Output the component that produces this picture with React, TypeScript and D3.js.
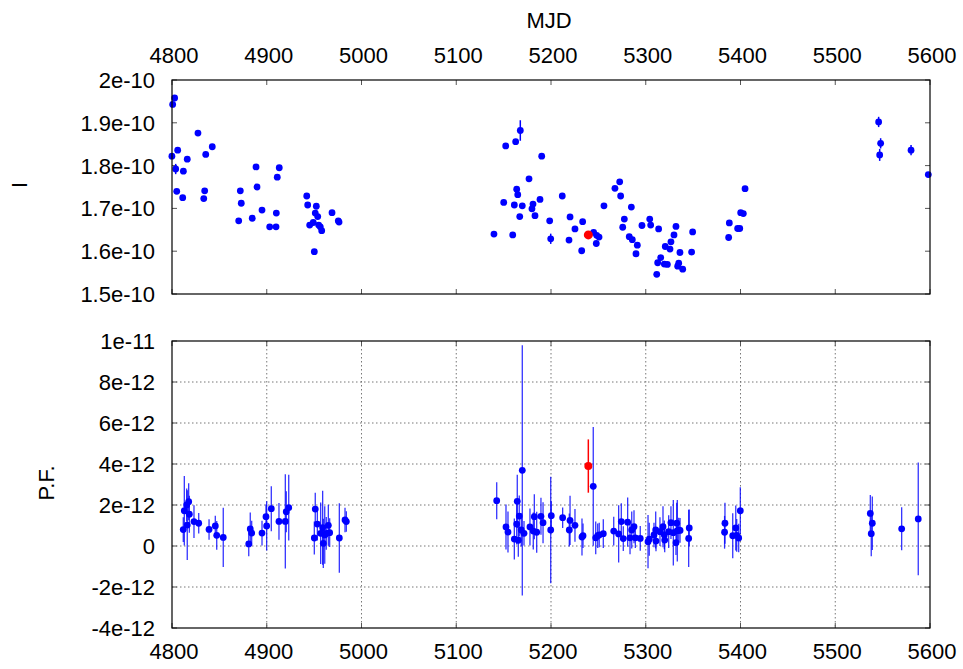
import React from "react";
import * as d3 from "d3";

// ---- Top panel: intensity I (units 1e-10) ----
const topMjd = [4800.7,4802.8,4799.9,4806,4803.9,4805,4811.3,4812,4816.1,4827.4,4835.6,4842.5,4834.5,4833.5,
  4872.1,4870.4,4873.1,4884.7,4888.7,4889.7,4895,4903.1,4909.8,4910.1,4911.1,4913.2,
  4942.2,4943.2,4952.3,4951.2,4953.8,4945.3,4949.1,4954.8,4956.5,4958,4950.2,4968.9,4975.5,4976.3,
  5139.8,5152.2,5162.7,5167.6,5190.2,5176.8,5163.8,5164.9,5150.1,5161.3,5169.7,5181,5179.9,5188.4,5167,5183.1,5198.6,5159.6,5199.7,
  5211.9,5220.1,5225.3,5219,5233.4,5232.4,5245,5248.2,5250.7,5247.8,5255.9,5272.5,5267.5,5273.5,5284.8,5277.4,5275.7,5282.6,5285.8,5291.1,5289.7,
  5296,5304.2,5305.2,5313.6,5331.9,5329.8,5326.6,5320.6,5325.6,5336.1,5315.8,5312.6,5319.6,5322.8,5334.8,5333.7,5339,5311.6,5349.5,5348.4,
  5388.2,5387.5,5397,5399.2,5400.2,5403,5404.8,
  5545.8,5547.9,5546.9,5580,5598.2];
const topI = [1.943,1.958,1.822,1.836,1.792,1.740,1.725,1.787,1.815,1.876,1.826,1.844,1.741,1.723,
  1.741,1.671,1.712,1.677,1.797,1.750,1.696,1.657,1.657,1.689,1.773,1.795,
  1.729,1.708,1.705,1.689,1.681,1.661,1.667,1.661,1.657,1.648,1.599,1.690,1.671,1.668,
  1.640,1.846,1.856,1.882,1.822,1.769,1.745,1.732,1.714,1.708,1.706,1.710,1.699,1.721,1.681,1.683,1.671,1.638,1.629,
  1.729,1.680,1.652,1.626,1.669,1.601,1.644,1.637,1.633,1.618,1.706,1.762,1.747,1.729,1.703,1.675,1.656,1.634,1.627,1.614,1.594,
  1.660,1.675,1.661,1.652,1.658,1.638,1.622,1.611,1.605,1.597,1.585,1.573,1.570,1.569,1.572,1.565,1.558,1.546,1.645,1.598,
  1.666,1.632,1.653,1.653,1.690,1.688,1.746,
  1.902,1.852,1.825,1.836,1.779];
const topErr = [0.004,0.004,0.004,0.004,0.012,0.004,0.004,0.004,0.004,0.004,0.004,0.004,0.004,0.004,
  0.004,0.004,0.004,0.004,0.004,0.004,0.004,0.004,0.004,0.004,0.004,0.004,
  0.004,0.004,0.004,0.004,0.004,0.004,0.004,0.004,0.004,0.004,0.004,0.004,0.004,0.004,
  0.005,0.004,0.004,0.024,0.004,0.004,0.004,0.004,0.004,0.004,0.004,0.004,0.004,0.004,0.004,0.004,0.004,0.004,0.012,
  0.004,0.004,0.004,0.004,0.004,0.004,0.004,0.004,0.004,0.004,0.004,0.004,0.004,0.004,0.004,0.004,0.004,0.004,0.004,0.004,0.004,
  0.004,0.004,0.004,0.004,0.004,0.004,0.004,0.004,0.004,0.004,0.004,0.004,0.004,0.004,0.004,0.004,0.004,0.004,0.004,0.004,
  0.004,0.004,0.004,0.004,0.004,0.004,0.004,
  0.012,0.012,0.014,0.012,0.005];
const topRedMjd = [5239.4];
const topRedI = [1.638];

// ---- Bottom panel: pulsed flux P.F. (units 1e-12) ----
const pfMjd = [4811.9,4813.0,4815.5,4816.1,4817.6,4818.3,4823.2,4828.2,4839.1,4845.7,4847.2,4854.1,
  4881.0,4882.6,4884.1,4895.0,4899.2,4899.9,4904.8,4912.9,4919.6,4920.6,4923.2,
  4950.2,4951.2,4953.4,4956.9,4959.0,4959.7,4961.2,4962.8,4965.0,4966.4,4976.6,4982.6,4984.0,
  5142.7,5152.5,5154.6,5161.3,5163.8,5164.4,5165.5,5166.5,5168.6,5169.7,5171.5,5177.8,5181.3,5182.4,5184.9,5189.4,5191.6,5199.7,5200.3,
  5212.3,5219.3,5220.1,5225.3,5232.7,5233.8,5244.6,5247.2,5249.3,5250.9,5255.2,5266.2,5271.4,5274.2,5276.3,5280.9,5283.4,5285.2,5287.6,5289.0,5294.2,
  5302.4,5303.7,5308.7,5310.5,5310.8,5315.0,5318.2,5319.6,5320.0,5324.2,5326.6,5329.1,5331.9,5332.7,5333.3,5334.8,5336.2,5345.3,5345.9,
  5383.2,5383.6,5391.8,5395.0,5396.0,5398.1,5399.8,
  5537.0,5538.0,5539.1,5570.1,5587.6];
const pfVal = [0.80,1.72,2.0,1.02,2.16,1.55,1.19,1.11,0.81,0.98,0.52,0.42,
  0.10,0.83,0.63,0.63,1.43,0.98,1.82,1.2,1.2,1.67,1.87,
  0.39,1.80,1.07,0.62,0.89,0.13,0.54,0.62,1.01,0.65,0.39,1.27,1.19,
  2.21,0.93,0.68,0.34,1.07,2.18,0.28,1.46,0.78,3.69,0.62,0.93,0.73,1.43,0.67,1.45,1.14,0.78,1.48,
  1.38,0.78,1.25,1.01,0.44,0.50,2.91,0.40,0.50,0.54,0.60,0.73,0.59,1.19,0.36,1.16,0.40,0.78,0.94,0.40,0.37,
  0.21,0.33,0.54,0.78,0.24,0.70,0.94,0.54,0.29,0.70,1.14,0.65,0.16,1.11,0.75,0.78,0.76,0.37,0.88,
  0.67,1.11,0.50,0.88,0.52,0.39,1.72,
  1.59,0.60,1.11,0.84,1.32];
const pfErr = [0.6,1.7,0.8,1.7,0.9,0.9,0.8,0.5,0.5,0.5,0.7,1.45,
  0.6,0.8,0.6,0.6,0.6,1.2,1.1,0.9,2.3,1.0,1.6,
  0.8,0.8,0.8,1.5,1.8,1.2,1.4,0.8,1.0,0.7,1.7,0.6,0.5,
  0.9,1.1,1.0,1.0,1.0,1.3,0.8,1.0,0.8,6.1,0.6,0.9,0.9,1.1,1.0,0.9,1.0,2.6,0.7,
  0.5,0.8,1.2,0.8,0.9,0.6,2.9,0.8,0.6,0.6,0.7,0.7,1.4,0.9,0.6,1.2,0.8,0.9,0.8,0.5,0.6,
  1.3,0.8,0.6,0.9,0.5,0.7,1.0,0.7,0.6,0.8,0.8,1.6,0.6,1.0,1.5,0.6,0.6,1.4,0.9,
  0.8,1.0,1.1,1.1,0.8,0.7,1.15,
  0.9,1.1,1.3,1.05,2.75];
const pfRedMjd = [5239.4];
const pfRedVal = [3.90];
const pfRedErr = [1.3];

const xTicks = [4800, 4900, 5000, 5100, 5200, 5300, 5400, 5500, 5600];
const topTicks = [1.5, 1.6, 1.7, 1.8, 1.9, 2.0];
const topTickLabels = ["1.5e-10", "1.6e-10", "1.7e-10", "1.8e-10", "1.9e-10", "2e-10"];
const pfTicks = [-4, -2, 0, 2, 4, 6, 8, 10];
const pfTickLabels = ["-4e-12", "-2e-12", "0", "2e-12", "4e-12", "6e-12", "8e-12", "1e-11"];

const W = 963, H = 669;
const L = 172, R = 930;
const T1 = 80, B1 = 294;
const T2 = 341, B2 = 628;
const FONT = "'Liberation Sans', Arial, sans-serif";
const FS = 22;
const BLUE = "#0000ff";
const RED = "#ff0000";

export default function App() {
  const x = d3.scaleLinear().domain([4800, 5600]).range([L, R]);
  const y1 = d3.scaleLinear().domain([1.5, 2.0]).range([B1, T1]);
  const y2 = d3.scaleLinear().domain([-4, 10]).range([B2, T2]);
  const tk = 5;

  return (
    <svg width={W} height={H} style={{ position: "absolute", left: 0, top: 0, background: "#fff" }}
      fontFamily={FONT}>
      <rect x={0} y={0} width={W} height={H} fill="#fff" />
      {/* labels */}
      <text x={549} y={27.5} fontSize={FS} textAnchor="middle">MJD</text>
      <text transform={`translate(26.5,185) rotate(-90)`} fontSize={FS} textAnchor="middle">I</text>
      <text transform={`translate(53.5,483) rotate(-90)`} fontSize={FS} textAnchor="middle">P.F.</text>

      {/* ---- Top panel ---- */}
      <g>
        {xTicks.map((t) => (
          <g key={"tx" + t}>
            <line x1={x(t)} x2={x(t)} y1={T1} y2={T1 + tk} stroke="#555" />
            <line x1={x(t)} x2={x(t)} y1={B1} y2={B1 - tk} stroke="#555" />
            <text x={x(t) + 2} y={62.5} fontSize={FS} textAnchor="middle">{t}</text>
          </g>
        ))}
        {topTicks.map((t, i) => (
          <g key={"ty" + t}>
            <line x1={L} x2={L + tk} y1={y1(t)} y2={y1(t)} stroke="#555" />
            <line x1={R} x2={R - tk} y1={y1(t)} y2={y1(t)} stroke="#555" />
            <text x={155} y={y1(t) + 8} fontSize={FS} textAnchor="end">{topTickLabels[i]}</text>
          </g>
        ))}
        {topMjd.map((m, i) => (
          <g key={"tp" + i}>
            <line x1={x(m)} x2={x(m)} y1={y1(topI[i] - topErr[i])} y2={y1(topI[i] + topErr[i])}
              stroke={BLUE} strokeWidth={1.5} />
            <circle cx={x(m)} cy={y1(topI[i])} r={3.4} fill={BLUE} />
          </g>
        ))}
        {topRedMjd.map((m, i) => (
          <circle key={"tr" + i} cx={x(m)} cy={y1(topRedI[i])} r={4.5} fill={RED} />
        ))}
        <rect x={L} y={T1} width={R - L} height={B1 - T1} fill="none" stroke="#000" strokeWidth={1.2} />
      </g>

      {/* ---- Bottom panel ---- */}
      <g>
        {xTicks.map((t) => (
          <g key={"bx" + t}>
            {t !== 4800 && t !== 5600 && (
              <line x1={x(t)} x2={x(t)} y1={T2} y2={B2} stroke="#777" strokeDasharray="1.5,2.5" />
            )}
            <line x1={x(t)} x2={x(t)} y1={B2} y2={B2 - tk} stroke="#555" />
            <line x1={x(t)} x2={x(t)} y1={T2} y2={T2 + tk} stroke="#555" />
            <text x={x(t) + 2} y={659} fontSize={FS} textAnchor="middle">{t}</text>
          </g>
        ))}
        {pfTicks.map((t, i) => (
          <g key={"by" + t}>
            {t !== -4 && t !== 10 && (
              <line x1={L} x2={R} y1={y2(t)} y2={y2(t)} stroke="#777" strokeDasharray="1.5,2.5" />
            )}
            <line x1={L} x2={L + tk} y1={y2(t)} y2={y2(t)} stroke="#555" />
            <line x1={R} x2={R - tk} y1={y2(t)} y2={y2(t)} stroke="#555" />
            <text x={155} y={y2(t) + 8} fontSize={FS} textAnchor="end">{pfTickLabels[i]}</text>
          </g>
        ))}
        {pfMjd.map((m, i) => (
          <line key={"be" + i} x1={x(m)} x2={x(m)} y1={y2(pfVal[i] - pfErr[i])} y2={y2(pfVal[i] + pfErr[i])}
            stroke={BLUE} strokeWidth={1.3} strokeOpacity={0.8} />
        ))}
        {pfMjd.map((m, i) => (
          <circle key={"bp" + i} cx={x(m)} cy={y2(pfVal[i])} r={3.4} fill={BLUE} />
        ))}
        {pfRedMjd.map((m, i) => (
          <g key={"br" + i}>
            <line x1={x(m)} x2={x(m)} y1={y2(pfRedVal[i] - pfRedErr[i])} y2={y2(pfRedVal[i] + pfRedErr[i])}
              stroke={RED} strokeWidth={1.5} />
            <circle cx={x(m)} cy={y2(pfRedVal[i])} r={4} fill={RED} />
          </g>
        ))}
        <rect x={L} y={T2} width={R - L} height={B2 - T2} fill="none" stroke="#000" strokeWidth={1.2} />
      </g>
    </svg>
  );
}
